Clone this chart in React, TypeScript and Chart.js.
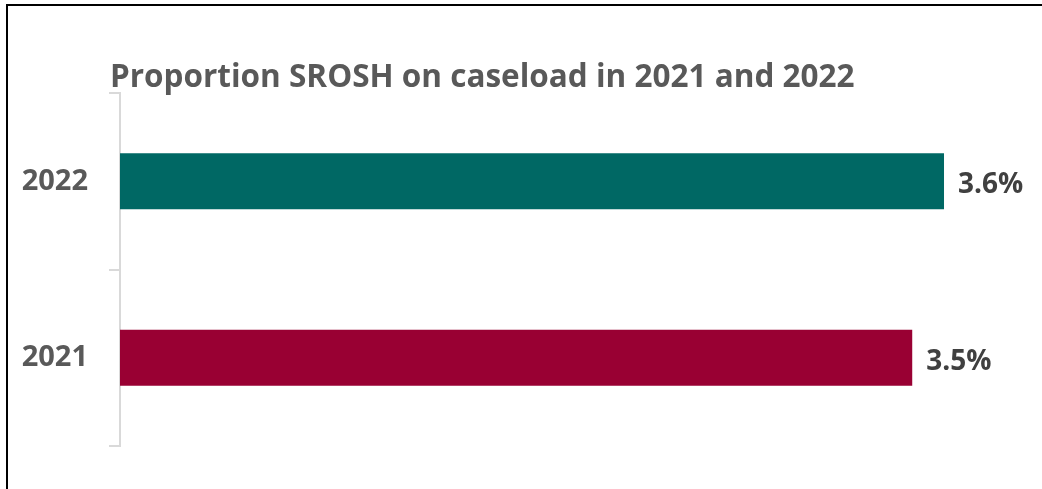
import React, { useEffect, useRef } from "react";
import { Chart, registerables } from "chart.js";

Chart.register(...registerables);

const titleText = "Proportion SROSH on caseload in 2021 and 2022";
const categories = ["2022", "2021"];
const values = [3.63, 3.49];
const barColors = ["#006864", "#990033"];
const axisMin = 0;
const axisMax = 4;

const FONT = '"Open Sans", "Noto Sans", sans-serif';

const titlePlugin = {
  id: "customTitle",
  afterDraw(chart: any) {
    const { ctx, chartArea } = chart;
    ctx.save();
    ctx.font = `bold 31.5px ${FONT}`;
    ctx.fillStyle = "#595959";
    ctx.textAlign = "left";
    ctx.textBaseline = "alphabetic";
    ctx.fillText(titleText, chartArea.left - 10, chartArea.top - 6);
    ctx.restore();
  },
};

const valueLabelPlugin = {
  id: "valueLabels",
  afterDatasetsDraw(chart: any) {
    const { ctx } = chart;
    const meta = chart.getDatasetMeta(0);
    ctx.save();
    ctx.font = `bold 28px ${FONT}`;
    ctx.fillStyle = "#404040";
    ctx.textAlign = "left";
    ctx.textBaseline = "alphabetic";
    meta.data.forEach((el: any, i: number) => {
      ctx.fillText(values[i].toFixed(1) + "%", el.x + 14, el.y + 12);
    });
    ctx.restore();
  },
};

export default function App() {
  const ref = useRef<HTMLCanvasElement | null>(null);

  useEffect(() => {
    if (!ref.current) return;
    const chart = new Chart(ref.current, {
      type: "bar",
      data: {
        labels: categories,
        datasets: [
          {
            data: values,
            backgroundColor: barColors,
            borderWidth: 0,
            barPercentage: 0.317,
            categoryPercentage: 1,
          },
        ],
      },
      options: {
        indexAxis: "y",
        responsive: false,
        animation: false,
        devicePixelRatio: 1,
        layout: { padding: { left: 0, top: 93, right: 14, bottom: 43 } },
        plugins: {
          legend: { display: false },
          tooltip: { enabled: false },
          title: { display: false },
        },
        scales: {
          x: { display: false, min: axisMin, max: axisMax },
          y: {
            border: { display: true, color: "#d9d9d9", width: 2 },
            grid: {
              display: true,
              drawOnChartArea: false,
              drawTicks: true,
              tickLength: 11,
              color: "#d9d9d9",
              lineWidth: 2,
              offset: true,
            },
            ticks: {
              color: "#595959",
              font: { family: FONT, weight: "bold", size: 29 },
              padding: 21,
            },
            afterFit: (scale: any) => {
              scale.width = 120;
            },
          },
        },
      } as any,
      plugins: [titlePlugin, valueLabelPlugin],
    });
    return () => chart.destroy();
  }, []);

  return (
    <div>
      <canvas
        ref={ref}
        width={1042}
        height={489}
        style={{ position: "fixed", left: 0, top: 0, width: 1042, height: 489 }}
      />
      <div
        style={{
          position: "fixed",
          left: 6,
          top: 4,
          width: 1200,
          height: 700,
          border: "2px solid #000",
          pointerEvents: "none",
        }}
      />
    </div>
  );
}
